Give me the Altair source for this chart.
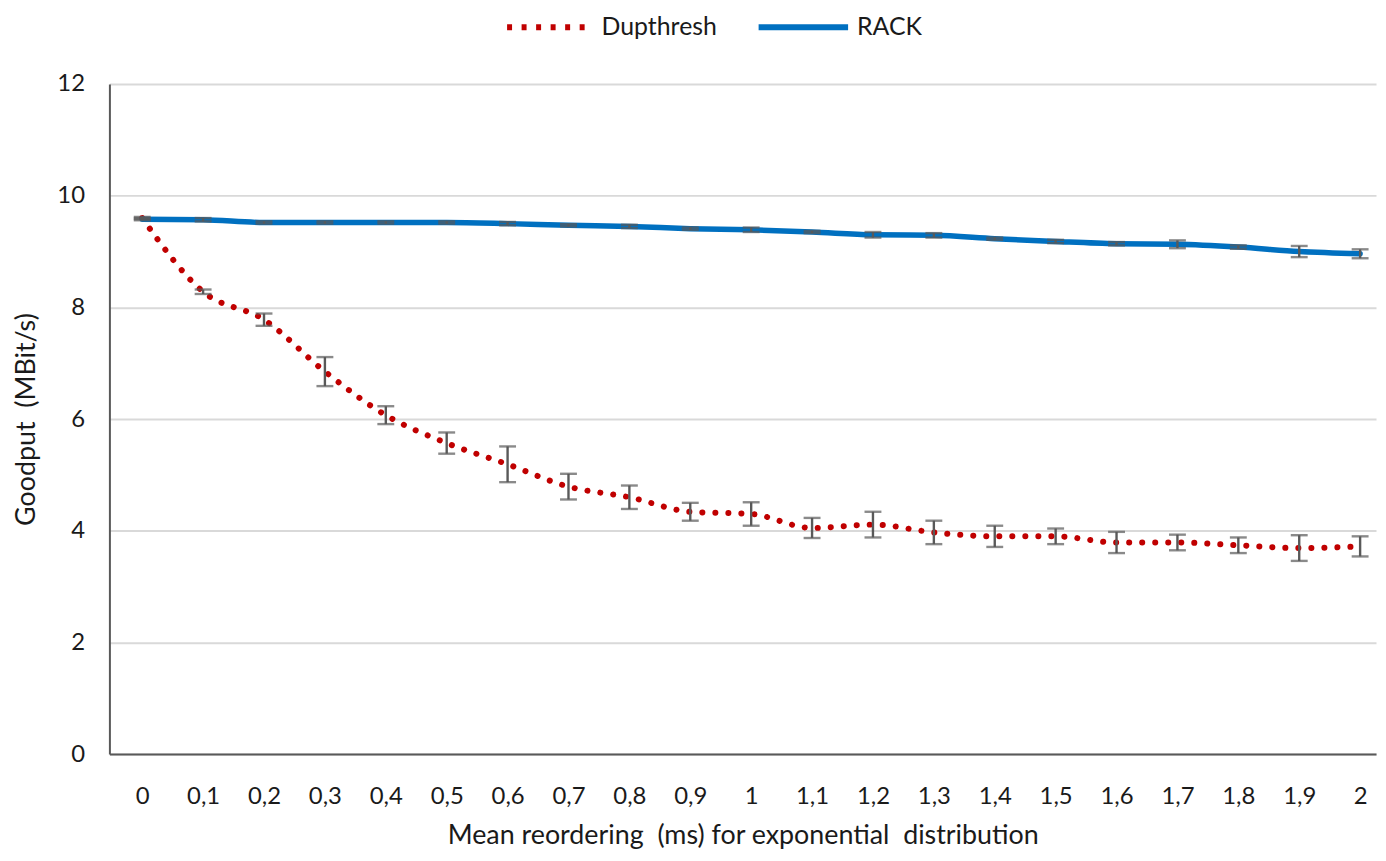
import altair as alt
import pandas as pd

# ---- data ----
x_vals = [0, 0.1, 0.2, 0.3, 0.4, 0.5, 0.6, 0.7, 0.8, 0.9, 1.0,
          1.1, 1.2, 1.3, 1.4, 1.5, 1.6, 1.7, 1.8, 1.9, 2.0]
dup = [9.60, 8.28, 7.78, 6.85, 6.07, 5.57, 5.19, 4.79, 4.60, 4.34, 4.30,
       4.05, 4.11, 3.97, 3.90, 3.90, 3.79, 3.79, 3.74, 3.69, 3.72]
dup_err = [0.02, 0.04, 0.11, 0.26, 0.16, 0.19, 0.32, 0.23, 0.21, 0.16, 0.21,
           0.18, 0.23, 0.21, 0.19, 0.14, 0.19, 0.14, 0.14, 0.23, 0.18]
rack = [9.58, 9.57, 9.52, 9.52, 9.52, 9.52, 9.50, 9.47, 9.45, 9.41, 9.39,
        9.35, 9.30, 9.29, 9.23, 9.18, 9.14, 9.13, 9.08, 9.00, 8.96]
rack_err = [0.02, 0.03, 0.02, 0.02, 0.02, 0.02, 0.03, 0.02, 0.03, 0.02, 0.04,
            0.02, 0.05, 0.04, 0.02, 0.03, 0.03, 0.07, 0.03, 0.10, 0.08]
series = ["Dupthresh", "RACK"]
colors = ["#C00000", "#0070C0"]
y_ticks = [0, 2, 4, 6, 8, 10, 12]

rows = []
for name, vals, errs in [(series[0], dup, dup_err), (series[1], rack, rack_err)]:
    for x, v, e in zip(x_vals, vals, errs):
        rows.append({"x": x, "y": v, "lo": v - e, "hi": v + e, "series": name})
df = pd.DataFrame(rows)

FONT = "Lato"
TXT = "#1a1a1a"
W, H = 1274, 674

xscale = alt.Scale(domain=[-0.05388, 2.0261], nice=False, zero=False)
yscale = alt.Scale(domain=[0, 12], nice=False)

xenc = alt.X("x:Q", scale=xscale,
             axis=alt.Axis(values=x_vals, labelExpr="replace(format(datum.value, '.1~f'), '.', ',')",
                           title="Mean reordering\u00a0 (ms) for exponential\u00a0 distribution",
                           grid=False, ticks=False, domainColor="#595959", domainWidth=2,
                           labelPadding=31, titlePadding=14, labelFlush=False))
yenc = alt.Y("y:Q", scale=yscale,
             axis=alt.Axis(values=y_ticks, format="d", title="Goodput\u00a0 (MBit/s)", grid=True,
                           gridColor="#d9d9d9", gridWidth=2, ticks=False,
                           domainColor="#595959", domainWidth=2, labelPadding=25,
                           titlePadding=17))

base = alt.Chart(df)

dup_line = base.transform_filter(alt.datum.series == series[0]).mark_line(
    interpolate="monotone", strokeWidth=6, strokeDash=[0.1, 13], strokeCap="round"
).encode(
    x=xenc, y=yenc,
    color=alt.Color("series:N", scale=alt.Scale(domain=[series[0]], range=[colors[0]]),
                    legend=alt.Legend(orient="none", legendX=397, legendY=-99, title=None,
                                      symbolType="stroke", symbolSize=6084, symbolStrokeWidth=6,
                                      symbolDash=[5, 9.6], labelOffset=14,
                                      labelFontSize=25, labelFont=FONT, labelColor=TXT))
)
rack_line = base.transform_filter(alt.datum.series == series[1]).mark_line(
    interpolate="monotone", strokeWidth=5.5, strokeCap="round"
).encode(
    x=xenc, y=yenc,
    color=alt.Color("series:N", scale=alt.Scale(domain=[series[1]], range=[colors[1]]),
                    legend=alt.Legend(orient="none", legendX=650, legendY=-105, title=None,
                                      symbolType="stroke", symbolSize=8100, symbolStrokeWidth=6,
                                      labelOffset=6,
                                      labelFontSize=25, labelFont=FONT, labelColor=TXT))
)

err_rule = base.mark_rule(color="#595959", strokeWidth=2.4).encode(
    x="x:Q", y="lo:Q", y2="hi:Q")
cap_lo = base.mark_tick(color="#595959", orient="horizontal", size=17, thickness=2.4).encode(
    x="x:Q", y="lo:Q")
cap_hi = base.mark_tick(color="#595959", orient="horizontal", size=17, thickness=2.4).encode(
    x="x:Q", y="hi:Q")

chart = alt.layer(dup_line, rack_line, err_rule, cap_lo, cap_hi).resolve_scale(
    color="independent"
).properties(
    width=W, height=H,
    autosize=alt.AutoSizeParams(type="none"),
    padding={"left": 102, "top": 74, "right": 2, "bottom": 97},
).configure_view(stroke=None).configure_axis(
    labelFont=FONT, titleFont=FONT, labelFontSize=24, titleFontSize=27,
    labelColor=TXT, titleColor=TXT, titleFontWeight="normal"
)

chart.save("out.html", embed_options={"renderer": "svg", "actions": False})
